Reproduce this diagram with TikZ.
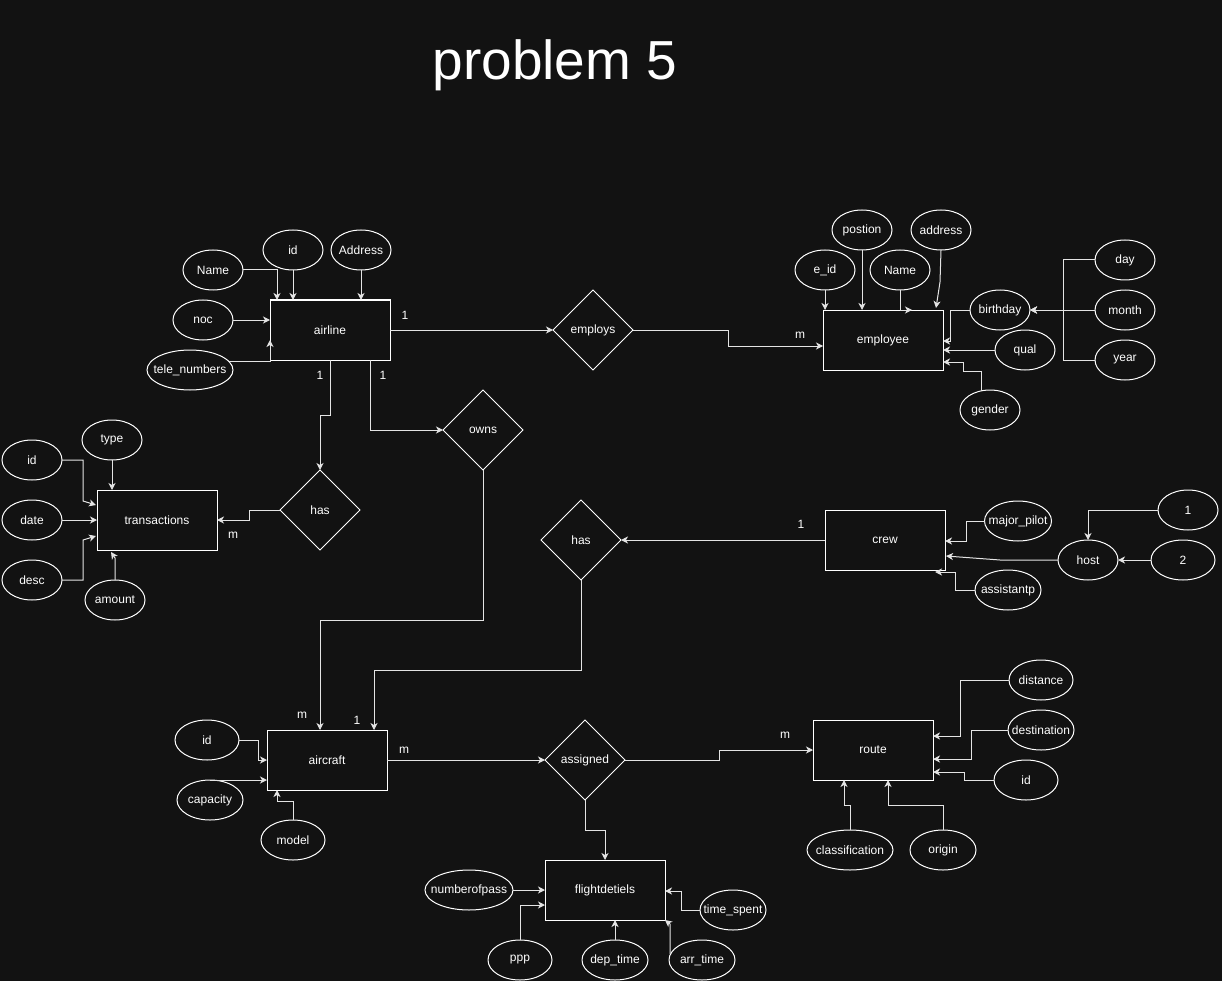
\documentclass[tikz,border=0pt]{standalone}
\usepackage{fontspec}
\setmainfont{Liberation Sans}
\usetikzlibrary{shapes.geometric,arrows.meta,calc}
\definecolor{bgc}{RGB}{18,18,18}
\definecolor{edgec}{RGB}{228,228,228}
\newcommand\zb[1]{\makebox[0pt]{#1}}
\begin{document}
\begin{tikzpicture}[x=1pt,y=-1pt,
  every node/.style={text=white,font=\fontsize{12}{14}\selectfont},
  ent/.style={draw=white,line width=1pt,rectangle,minimum width=120pt,minimum height=60pt,inner sep=0pt,outer sep=0pt},
  rel/.style={draw=white,line width=1pt,diamond,aspect=1,minimum width=80pt,minimum height=80pt,inner sep=0pt,outer sep=0pt},
  attr/.style={draw=white,line width=1pt,ellipse,minimum width=60pt,minimum height=40pt,inner sep=0pt,outer sep=0pt},
  edge/.style={draw=edgec,line width=1pt,-{Stealth[length=7pt,width=7pt,inset=2pt]}},
  lbl/.style={inner sep=0pt},
]
\fill[bgc] (0,0) rectangle (1222,981);
\useasboundingbox (0,0) rectangle (1222,981);

% title
\node[anchor=base,inner sep=0pt,font=\fontsize{55}{60}\selectfont] (title) at (555,80) {problem 5};

% entities
\node[ent] (airline) at (330,330) {airline};
\node[ent] (employee) at (883,340) {employee};
\node[ent] (trans) at (157,520) {transactions};
\node[ent] (crew) at (885,540) {crew};
\node[ent] (aircraft) at (327,760) {aircraft};
\node[ent] (route) at (873,750) {route};
\node[ent] (flight) at (605,890) {flightdetiels};

% relationships
\node[rel] (employs) at (593,330) {employs};
\node[rel] (owns) at (483,430) {owns};
\node[rel] (has1) at (320,510) {has};
\node[rel] (has2) at (581,540) {has};
\node[rel] (assigned) at (585,760) {assigned};

% airline attributes
\node[attr] (aName) at (213,270) {\zb{Name}};
\node[attr] (aid) at (293,250) {\zb{id}};
\node[attr] (aAddr) at (361,250) {\zb{Address}};
\node[attr] (anoc) at (203,320) {\zb{noc}};
\node[attr,minimum width=86pt] (atele) at (190,370) {\zb{tele\_numbers}};

% employee attributes
\node[attr] (eid) at (825,270) {\zb{e\_id}};
\node[attr] (epos) at (862,230) {\zb{postion}};
\node[attr] (ename) at (900,270) {\zb{Name}};
\node[attr] (eaddr) at (941,230) {\zb{address}};
\node[attr] (ebirth) at (1000,310) {\zb{birthday}};
\node[attr] (equal) at (1025,350) {\zb{qual}};
\node[attr] (egender) at (990,410) {\zb{gender}};
\node[attr] (eday) at (1125,260) {\zb{day}};
\node[attr] (emonth) at (1125,310) {\zb{month}};
\node[attr] (eyear) at (1125,360) {\zb{year}};

% transaction attributes
\node[attr] (tid) at (32,460) {\zb{id}};
\node[attr] (ttype) at (112,440) {\zb{type}};
\node[attr] (tdate) at (32,520) {\zb{date}};
\node[attr] (tdesc) at (32,580) {\zb{desc}};
\node[attr] (tamount) at (115,600) {\zb{amount}};

% crew attributes
\node[attr,minimum width=67pt] (cmajor) at (1018,521) {\zb{major\_pilot}};
\node[attr,minimum width=66pt] (cassist) at (1008,590) {\zb{assistantp}};
\node[attr] (chost) at (1088,560) {\zb{host}};
\node[attr] (c1) at (1188,510) {\zb{1}};
\node[attr,minimum width=64pt] (c2) at (1183,560) {\zb{2}};

% aircraft attributes
\node[attr,minimum width=64pt] (kid) at (207,740) {\zb{id}};
\node[attr,minimum width=66pt] (kcap) at (210,800) {\zb{capacity}};
\node[attr,minimum width=64pt] (kmodel) at (293,840) {\zb{model}};

% route attributes
\node[attr,minimum width=64pt] (rdist) at (1041,680) {\zb{distance}};
\node[attr,minimum width=66pt] (rdest) at (1041,730) {\zb{destination}};
\node[attr,minimum width=64pt] (rid) at (1026,780) {\zb{id}};
\node[attr,minimum width=86pt] (rclass) at (850,850) {\zb{classification}};
\node[attr,minimum width=66pt] (rorigin) at (943,850) {\zb{origin}};

% flightdetiels attributes
\node[attr,minimum width=88pt] (fnum) at (469,890) {\zb{numberofpass}};
\node[attr,minimum width=64pt] (fppp) at (520,960) {\zb{ppp}};
\node[attr,minimum width=66pt] (fdep) at (615,960) {\zb{dep\_time}};
\node[attr,minimum width=66pt] (farr) at (702,960) {\zb{arr\_time}};
\node[attr,minimum width=66pt] (fspent) at (733,910) {\zb{time\_spent}};

% cardinality labels
\node[lbl] (l1) at (405,315) {1};
\node[lbl] (l2) at (800,335) {m};
\node[lbl] (l3) at (320,375) {1};
\node[lbl] (l4) at (383,375) {1};
\node[lbl] (l5) at (233,535) {m};
\node[lbl] (l6) at (801,524) {1};
\node[lbl] (l7) at (302,715) {m};
\node[lbl] (l8) at (357,720) {1};
\node[lbl] (l9) at (404,750) {m};
\node[lbl] (l10) at (785,735) {m};

% airline attribute connectors
\draw[edge] (aName.east) -| ($(airline.north west)+(7,0)$);
\draw[edge] (aid.south) -- (aid.south |- airline.north);
\draw[edge] (aAddr.south) -- (aAddr.south |- airline.north);
\draw[edge] (anoc.east) -- (anoc.east -| airline.west);
\draw[edge] (atele.13) -- (atele.13 -| airline.west) -- ($(airline.west)+(0,10)$);

% relationships of airline
\draw[edge] (airline.east) -- (employs.west);
\draw[edge] (employs.east) -- ++(95,0) |- ($(employee.west)+(0,6)$);
\draw[edge] (airline.south) -- ++(0,55) -| (has1.north);
\draw[edge] ($(airline.south)+(40,0)$) |- (owns.west);
\draw[edge] (has1.west) -- ++(-31,0) |- (trans.east);
\draw[edge] (owns.south) -- ++(0,150) -| ($(aircraft.north)+(-7,0)$);

% employee attribute connectors
\draw[edge] (eid.south) -- (eid.south |- employee.north);
\draw[edge] (epos.south) -- (epos.south |- employee.north);
\draw[edge] (ename.south) -- (ename.south |- employee.north) -- ++(12,0);
\draw[edge] (eaddr.south) -- ++(-1,32) -- ($(employee.north east)+(-7,-2)$);
\draw[edge] (ebirth.west) -- ++(-20,0) |- ($(employee.east)+(0,1)$);
\draw[edge] (equal.west) -- (equal.west -| employee.east);
\draw[edge] ($(egender.north)+(-9,1)$) -- ++(0,-20) -- ++(-18,0) |- ($(employee.east)+(0,22)$);
\draw[edge] (eday.west) -| ($(ebirth.east)+(33,0)$) -- (ebirth.east);
\draw[edge] (emonth.west) -- (ebirth.east);
\draw[edge] (eyear.west) -| ($(ebirth.east)+(33,0)$) -- (ebirth.east);

% transaction attribute connectors
\draw[edge] (tid.east) -| ($(trans.west)+(-14,-19)$) -- ($(trans.west)+(-1,-15)$);
\draw[edge] (ttype.south) -- (ttype.south |- trans.north);
\draw[edge] (tdate.east) -- (trans.west);
\draw[edge] (tdesc.east) -| ($(trans.west)+(-14,20)$) -- ($(trans.west)+(-1,16)$);
\draw[edge] (tamount.north) -- ++(0,-22) -- ($(trans.south)+(-46,2)$);

% crew
\draw[edge] (crew.west) -- (has2.east);
\draw[edge] (has2.south) -- ++(0,90) -| ($(aircraft.north)+(47,0)$);
\draw[edge] (cmajor.west) -- ++(-18,0) |- ($(crew.east)+(0,1)$);
\draw[edge] (cassist.west) -- ++(-20,0) |- ($(crew.south east)+(-10,2)$);
\draw[edge] (chost.west) -- ++(-58,0) -- ($(crew.east)+(1,16)$);
\draw[edge] (c1.west) -| (chost.north);
\draw[edge] (c2.west) -- (chost.east);

% aircraft
\draw[edge] (kid.east) -- ++(19,0) |- (aircraft.west);
\draw[edge] (kcap.north) -- (kcap.north -| aircraft.west);
\draw[edge] (kmodel.north) -- ++(0,-19) -| ($(aircraft.south west)+(10,0)$);
\draw[edge] (aircraft.east) -- (assigned.west);
\draw[edge] (assigned.south) -- ++(0,30) -| (flight.north);
\draw[edge] (assigned.east) -- ++(94,0) |- (route.west);

% route attribute connectors
\draw[edge] (rdist.west) -- ++(-49,0) |- ($(route.east)+(0,-14)$);
\draw[edge] (rdest.west) -- ++(-37,0) |- ($(route.east)+(0,9)$);
\draw[edge] (rid.west) -- ++(-30,0) |- ($(route.east)+(0,22)$);
\draw[edge] (rclass.north) -- ++(0,-25) -| ($(route.south west)+(31,0)$);
\draw[edge] (rorigin.north) -- ++(0,-25) -| ($(route.south)+(15,0)$);

% flightdetiels attribute connectors
\draw[edge] (fnum.east) -- (flight.west);
\draw[edge] (fppp.north) |- ($(flight.west)+(0,15)$);
\draw[edge] (fdep.north) -- (fdep.north |- flight.south);
\draw[edge] ($(farr.west)+(1,-6)$) -- ($(flight.south east)+(5,4)$) -- (flight.south east);
\draw[edge] (fspent.west) -- ++(-19,0) |- ($(flight.east)+(0,1)$);
\end{tikzpicture}
\end{document}
